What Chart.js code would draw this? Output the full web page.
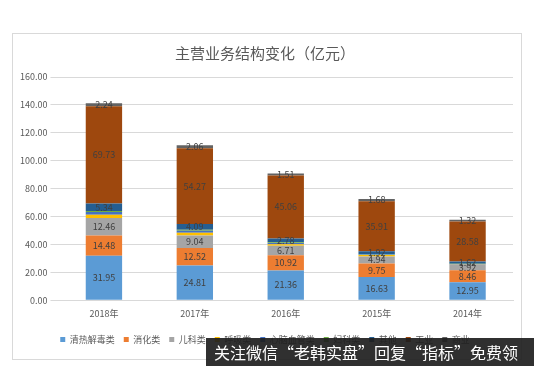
<!DOCTYPE html>
<html>
<head>
<meta charset="utf-8">
<script src="https://cdn.jsdelivr.net/npm/chart.js@4"></script>
<style>
    body { margin: 0; background: #fff; width: 534px; height: 366px; overflow: hidden; position: relative; }
    #box { position: absolute; left: 12px; top: 33px; width: 510px; height: 327px; border: 1px solid #d9d9d9; box-sizing: border-box; }
    #mark { position: absolute; left: 206px; top: 338px; width: 328px; height: 28px; background: rgba(30,30,30,0.92); color: #fff;
            font: 16px "Noto Sans CJK SC", sans-serif; line-height: 28px; padding-left: 8px; box-sizing: border-box; white-space: nowrap; }
</style>
</head>
<body>
<div id="box"><canvas id="structChart"></canvas></div>
<div id="mark">关注微信“老韩实盘”回复“指标”免费领</div>
<script>
const years = ['2018年', '2017年', '2016年', '2015年', '2014年'];
const seriesNames = ['清热解毒类', '消化类', '儿科类', '呼吸类', '心脑血管类', '妇科类', '其他', '工业', '商业'];
const qingre = [31.95, 24.81, 21.36, 16.63, 12.95];
const xiaohua = [14.48, 12.52, 10.92, 9.75, 8.46];
const erke = [12.46, 9.04, 6.71, 4.94, 3.92];
const huxi = [2.4, 2.0, 1.2, 1.0, 0.3];
const xinnao = [2.0, 1.5, 0.8, 0.5, 0.3];
const fuke = [0.6, 0.7, 0.5, 0.3, 0.2];
const qita = [5.34, 4.09, 2.78, 1.92, 1.62];
const gongye = [69.73, 54.27, 45.06, 35.91, 28.58];
const shangye = [2.24, 2.06, 1.51, 1.68, 1.32];
const yTicks = [0, 20, 40, 60, 80, 100, 120, 140, 160];

const colors = ['#5B9BD5', '#ED7D31', '#A5A5A5', '#FFC000', '#4472C4', '#70AD47', '#255E91', '#9E480E', '#636363'];
const allData = [qingre, xiaohua, erke, huxi, xinnao, fuke, qita, gongye, shangye];
// small segments in the picture carry no readable label
const labelled = [true, true, true, false, false, false, true, true, true];

const fontFamily = '"Noto Sans CJK SC", "Noto Sans", sans-serif';

// draw the value in the middle of each labelled segment
const segmentLabels = {
    id: 'segmentLabels',
    afterDatasetsDraw(chart) {
        const c = chart.ctx;
        c.save();
        c.font = '9px ' + fontFamily;
        c.fillStyle = '#404040';
        c.textAlign = 'center';
        c.textBaseline = 'middle';
        chart.data.datasets.forEach(function(ds, i) {
            if (!labelled[i]) return;
            chart.getDatasetMeta(i).data.forEach(function(bar, j) {
                const y = (bar.y + bar.base) / 2;
                c.fillText(ds.data[j].toFixed(2), bar.x, y);
            });
        });
        c.restore();
    }
};

const ctx = document.getElementById('structChart').getContext('2d');
new Chart(ctx, {
    type: 'bar',
    data: {
        labels: years,
        datasets: seriesNames.map(function(name, i) {
            return {
                label: name,
                data: allData[i],
                backgroundColor: colors[i],
                borderWidth: 0,
                barPercentage: 0.5,
                categoryPercentage: 0.8
            };
        })
    },
    options: {
        responsive: true,
        maintainAspectRatio: false,
        animation: false,
        layout: { padding: { left: 4, right: 8, top: 4, bottom: 5 } },
        plugins: {
            title: {
                display: true,
                text: '主营业务结构变化（亿元）',
                color: '#595959',
                font: { family: fontFamily, size: 15, weight: 'normal' },
                padding: { top: 6, bottom: 15 }
            },
            legend: {
                position: 'bottom',
                labels: {
                    boxWidth: 5,
                    boxHeight: 5,
                    padding: 9,
                    color: '#595959',
                    font: { family: fontFamily, size: 9 }
                }
            },
            tooltip: { enabled: false }
        },
        scales: {
            x: {
                stacked: true,
                grid: { display: false },
                border: { color: '#d9d9d9' },
                ticks: { color: '#595959', padding: 0, font: { family: fontFamily, size: 9 } },
                afterFit: function(axis) { axis.height += 7; }
            },
            y: {
                stacked: true,
                min: 0,
                max: 160,
                afterBuildTicks: function(axis) {
                    axis.ticks = yTicks.map(function(v) { return { value: v }; });
                },
                grid: { color: '#d9d9d9' },
                border: { display: false },
                ticks: {
                    color: '#595959',
                    font: { family: fontFamily, size: 9 },
                    callback: function(value) { return value.toFixed(2); }
                }
            }
        }
    },
    plugins: [segmentLabels]
});
</script>
</body>
</html>
